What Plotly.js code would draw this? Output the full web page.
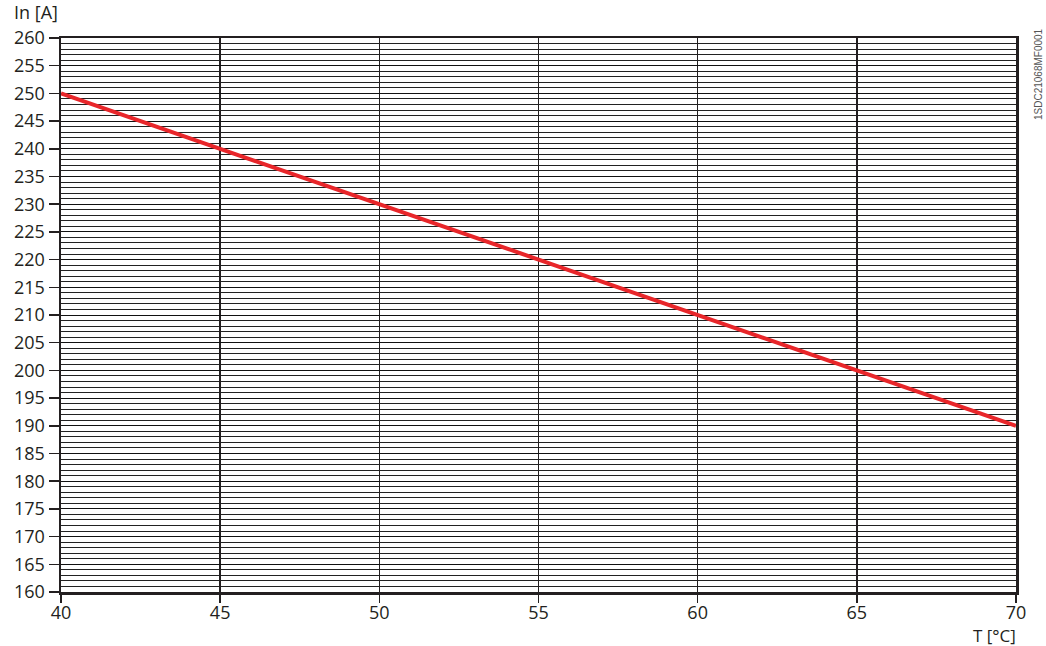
<!DOCTYPE html>
<html>
<head>
<meta charset="utf-8">
<script src="https://cdn.plot.ly/plotly-3.0.1.min.js"></script>
<style>html,body{margin:0;padding:0;background:#fff;}#chart{width:1046px;height:646px;}</style>
</head>
<body>
<div id="chart"></div>
<script>
const temperature = [40, 45, 50, 55, 60, 65, 70];
const currentIn = [250, 240, 230, 220, 210, 200, 190];
const xTicks = [40, 45, 50, 55, 60, 65, 70];
const yTicks = [160, 165, 170, 175, 180, 185, 190, 195, 200, 205, 210, 215, 220, 225, 230, 235, 240, 245, 250, 255, 260];

const font = {family: '"Open Sans", "Noto Sans", sans-serif', size: 18, color: '#231f20'};

Plotly.newPlot('chart', [{
  x: temperature, y: currentIn, type: 'scatter', mode: 'lines',
  line: {color: '#e8262a', width: 4}, hoverinfo: 'skip'
}], {
  width: 1046, height: 646,
  margin: {l: 61, r: 30, t: 38, b: 54, pad: 0},
  paper_bgcolor: '#fff', plot_bgcolor: '#fff',
  showlegend: false,
  font: font,
  xaxis: {
    range: [40, 70], tickvals: xTicks, ticktext: xTicks.map(String),
    ticks: 'outside', ticklen: 8, tickwidth: 1.5, tickcolor: '#231f20',
    ticklabelstandoff: -5,
    showgrid: true, gridcolor: '#231f20', gridwidth: 1.5,
    showline: true, linecolor: '#231f20', linewidth: 2.5, mirror: true,
    zeroline: false, tickfont: font, fixedrange: true
  },
  yaxis: {
    range: [160, 260], tickvals: yTicks, ticktext: yTicks.map(String),
    ticks: 'outside', ticklen: 10, tickwidth: 1.5, tickcolor: '#231f20',
    ticklabelstandoff: 0,
    showgrid: true, gridcolor: '#111111', gridwidth: 1,
    minor: {dtick: 1, tick0: 160, showgrid: true, gridcolor: '#222222', gridwidth: 1, ticks: ''},
    showline: true, linecolor: '#231f20', linewidth: 2.5, mirror: true,
    zeroline: false, tickfont: font, fixedrange: true
  },
  annotations: [
    {text: 'In [A]', xref: 'paper', yref: 'paper', x: 0, y: 1, xshift: -49, yshift: 12, xanchor: 'left', yanchor: 'bottom', showarrow: false, font: font},
    {text: 'T [°C]', xref: 'paper', yref: 'paper', x: 1, y: 0, xshift: 2, yshift: -30, xanchor: 'right', yanchor: 'top', showarrow: false, font: {family: font.family, size: 17, color: font.color}},
    {text: '1SDC21068MF0001', xref: 'paper', yref: 'paper', x: 1, y: 1, xshift: 22, yshift: 12, xanchor: 'center', yanchor: 'top', textangle: -90, showarrow: false, font: {family: '"Liberation Sans", Arial, sans-serif', size: 10, color: '#555'}}
  ]
}, {displayModeBar: false, staticPlot: true});
</script>
</body>
</html>
